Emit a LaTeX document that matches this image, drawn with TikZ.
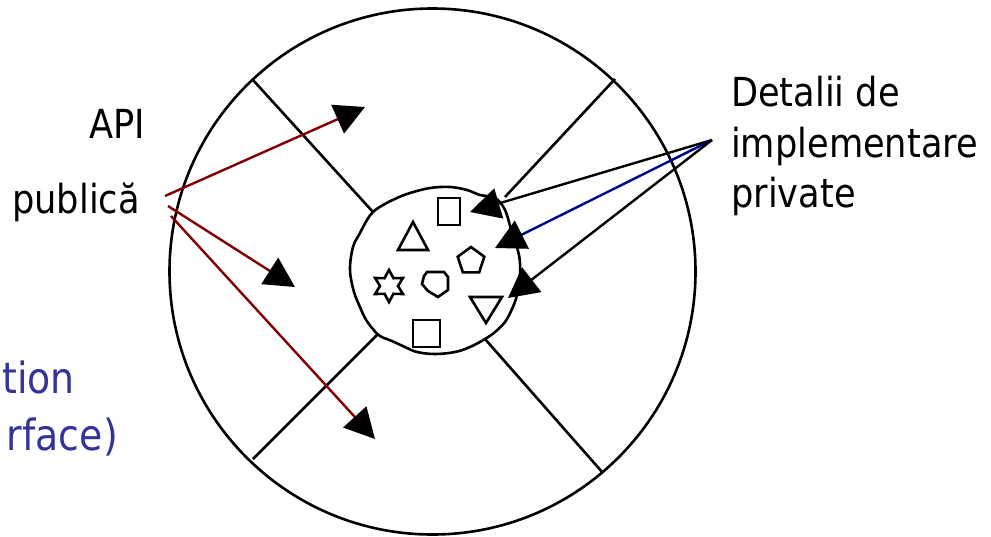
\documentclass[tikz,border=0pt]{standalone}
\usepackage{fontspec}
\setmainfont{DejaVu Sans}[FakeStretch=0.88]
\usetikzlibrary{arrows.meta}
\definecolor{apired}{RGB}{128,0,0}
\definecolor{navyline}{RGB}{0,0,128}
\definecolor{slideblue}{RGB}{51,51,153}
\begin{document}
\begin{tikzpicture}[x=1pt,y=-1pt,
  ring/.style={draw=black,line width=2.6pt},
  figure/.style={draw=black,line width=2.6pt,line join=miter},
  headtip/.style={-{Triangle[length=30pt,width=31pt,color=black]}},
  redarrow/.style={draw=apired,line width=2.4pt,headtip},
  bluearrow/.style={draw=navyline,line width=2.4pt,headtip},
  blackarrow/.style={draw=black,line width=2.4pt,headtip},
  lbl/.style={font=\fontsize{40}{46}\selectfont,inner sep=0pt},
  bluelbl/.style={font=\fontsize{43}{50}\selectfont,text=slideblue,inner sep=0pt}]
\useasboundingbox (0,0) rectangle (991,536);
\clip (0,0) rectangle (991,536);
% outer ring
\draw[ring] (432.5,271.5) circle[radius=263pt];
% inner blob
\draw[ring] plot[smooth cycle,tension=0.6] coordinates {
 (350,270) (353,247) (360,233) (367,220) (373,212) (383,205) (397,198)
 (410,193) (430,188) (450,187) (467,190) (480,195) (495,198) (505,210)
 (512,233) (519,255) (520,275) (517,295) (512,309) (505,322) (495,332)
 (485,339) (470,347) (455,352) (435,354) (417,352) (405,347) (392,341)
 (380,336) (372,328) (365,318) (360,307) (354,292)};
% spokes
\coordinate (o1) at (253,80);  \coordinate (i1) at (373,212);
\coordinate (o2) at (615,79);  \coordinate (i2) at (505,197);
\coordinate (o3) at (253,459); \coordinate (i3) at (378,334);
\coordinate (o4) at (603,473); \coordinate (i4) at (485,339);
\draw[ring] (o1) -- (i1);
\draw[ring] (o2) -- (i2);
\draw[ring] (o3) -- (i3);
\draw[ring] (o4) -- (i4);
% private objects
\draw[figure] (438,198) rectangle (460,225);
\draw[figure] (398,250) -- (413,222) -- (428,250) -- cycle;
\draw[figure] (471,247) -- (457.7,256.7) -- (462.8,272.3) -- (479.2,272.3) -- (484.3,256.7) -- cycle;
\draw[figure] (389,270) -- (393.5,278.2) -- (402.9,278) -- (398,286) -- (402.9,294) -- (393.5,293.8)
  -- (389,302) -- (384.5,293.8) -- (375.1,294) -- (380,286) -- (375.1,278) -- (384.5,278.2) -- cycle;
\draw[figure] (427,272) -- (444,272) -- (448,277) -- (448,290) -- (438,297) -- (428,291) -- (422,284) -- (424,276) -- cycle;
\draw[figure] (470,297) -- (502,297) -- (486,323) -- cycle;
\draw[figure] (413,320) rectangle (440,347);
% labels
\node[lbl,anchor=base east] (api) at (145,138) {API};
\node[lbl,anchor=base west] (publica) at (12,213) {publică};
\node[lbl,anchor=base west] (det1) at (731,106) {Detalii de};
\node[lbl,anchor=base west] (det2) at (731,157) {implementare};
\node[lbl,anchor=base west] (det3) at (731,207) {private};
\node[bluelbl,anchor=base east] (tion) at (75,393) {tion};
\node[bluelbl,anchor=base east] (rface) at (118,450) {rface)};
% public API arrows
\coordinate (ra) at (165,196);
\coordinate (rb) at (168,206);
\coordinate (rc) at (171,216);
\coordinate (ta) at (365,107);
\coordinate (tb) at (295,287);
\coordinate (tc) at (375,439);
\draw[redarrow] (ra) -- (ta);
\draw[redarrow] (rb) -- (tb);
\draw[redarrow] (rc) -- (tc);
% private detail arrows
\coordinate (dp) at (712,140);
\coordinate (pa) at (470,212);
\coordinate (pb) at (495,248);
\coordinate (pc) at (508,298);
\draw[blackarrow] (dp) -- (pa);
\draw[bluearrow] (dp) -- (pb);
\draw[blackarrow] (dp) -- (pc);
\end{tikzpicture}
\end{document}
